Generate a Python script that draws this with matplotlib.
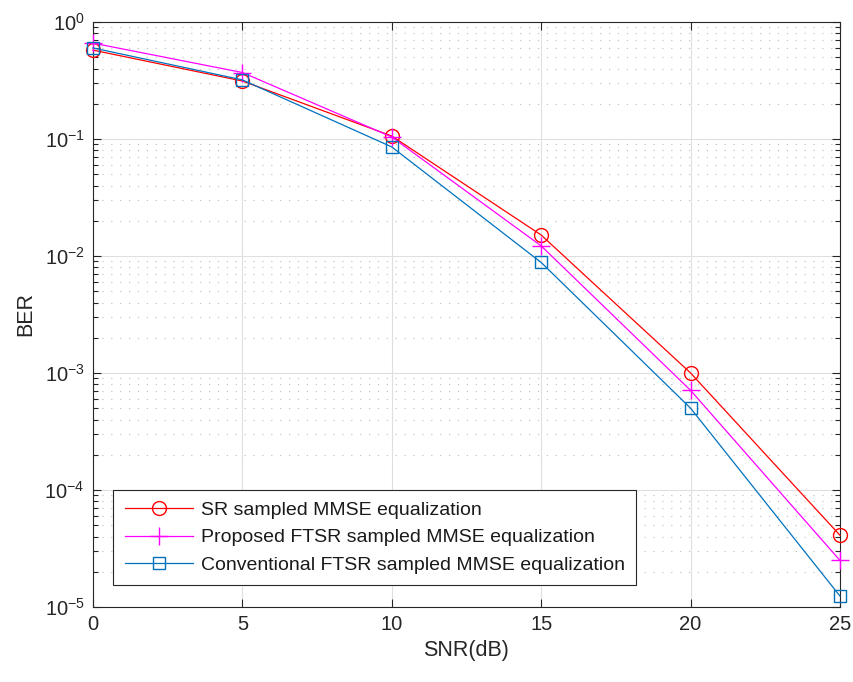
import matplotlib

matplotlib.use("Agg")
import matplotlib.pyplot as plt
from matplotlib.ticker import LogLocator, NullFormatter, MultipleLocator, FuncFormatter
import numpy as np

snr_db = [0, 5, 10, 15, 20, 25]
ber_sr = [0.575, 0.313, 0.106, 0.0151, 1.0e-3, 4.1e-5]
ber_ftsr_proposed = [0.66, 0.37, 0.104, 0.0122, 7.1e-4, 2.5e-5]
ber_ftsr_conventional = [0.60, 0.32, 0.0855, 0.0088, 5.0e-4, 1.24e-5]

labels = [
    "SR sampled MMSE equalization",
    "Proposed FTSR sampled MMSE equalization",
    "Conventional FTSR sampled MMSE equalization",
]

plt.rcParams["font.family"] = ["Liberation Sans", "DejaVu Sans"]
plt.rcParams["mathtext.fontset"] = "custom"
plt.rcParams["mathtext.rm"] = "Liberation Sans"

fig = plt.figure(figsize=(8.54, 6.82), dpi=100)
ax = fig.add_axes([93 / 854, 75 / 682, 747 / 854, 585 / 682])

ax.semilogy(snr_db, ber_sr, color="#FF0000", lw=0.9, marker="o", ms=10,
            mfc="none", mew=1.0, label=labels[0], clip_on=False, zorder=3)
ax.semilogy(snr_db, ber_ftsr_proposed, color="#FF00FF", lw=0.9, marker="+", ms=13,
            mew=1.0, label=labels[1], clip_on=False, zorder=3)
ax.semilogy(snr_db, ber_ftsr_conventional, color="#0072BD", lw=0.9, marker="s", ms=8.5,
            mfc="none", mew=1.0, label=labels[2], clip_on=False, zorder=3)

ax.set_xlim(0, 25)
ax.set_ylim(1e-5, 1)
ax.xaxis.set_major_locator(MultipleLocator(5))
ax.yaxis.set_major_locator(LogLocator(base=10, numticks=10))
ax.yaxis.set_minor_locator(LogLocator(base=10, subs=range(2, 10), numticks=20))
ax.yaxis.set_minor_formatter(NullFormatter())
ax.yaxis.set_major_formatter(
    FuncFormatter(lambda v, _: r"10$^{\mathregular{%d}}$" % int(round(np.log10(v))))
)

ax.grid(True, which="major", color="#DFDFDF", lw=0.8, ls="-")
ax.grid(True, which="minor", axis="y", color="#BDBDBD", lw=0.8, ls=(0, (1, 7)))
ax.set_axisbelow(True)

ax.tick_params(which="both", direction="in", top=True, right=True, labelsize=14.5,
               color="#262626", width=0.8, labelcolor="#262626")
ax.tick_params(which="major", length=6, pad=6)
ax.tick_params(which="minor", length=3.5)
for s in ax.spines.values():
    s.set_color("#262626")
    s.set_linewidth(0.8)

ax.set_xlabel("SNR(dB)", fontsize=15.5, color="#262626", labelpad=4)
ax.set_ylabel("BER", fontsize=15.5, color="#262626", labelpad=6)

leg = ax.legend(loc="lower left", bbox_to_anchor=(0.027, 0.037), borderaxespad=0,
                fontsize=14, frameon=True, fancybox=False, edgecolor="#262626",
                framealpha=1, handlelength=3.5, handletextpad=0.4, borderpad=0.6,
                labelspacing=0.5)
leg.get_frame().set_linewidth(0.8)
for t in leg.get_texts():
    t.set_color("#1a1a1a")

fig.savefig("out.png", dpi=100)
